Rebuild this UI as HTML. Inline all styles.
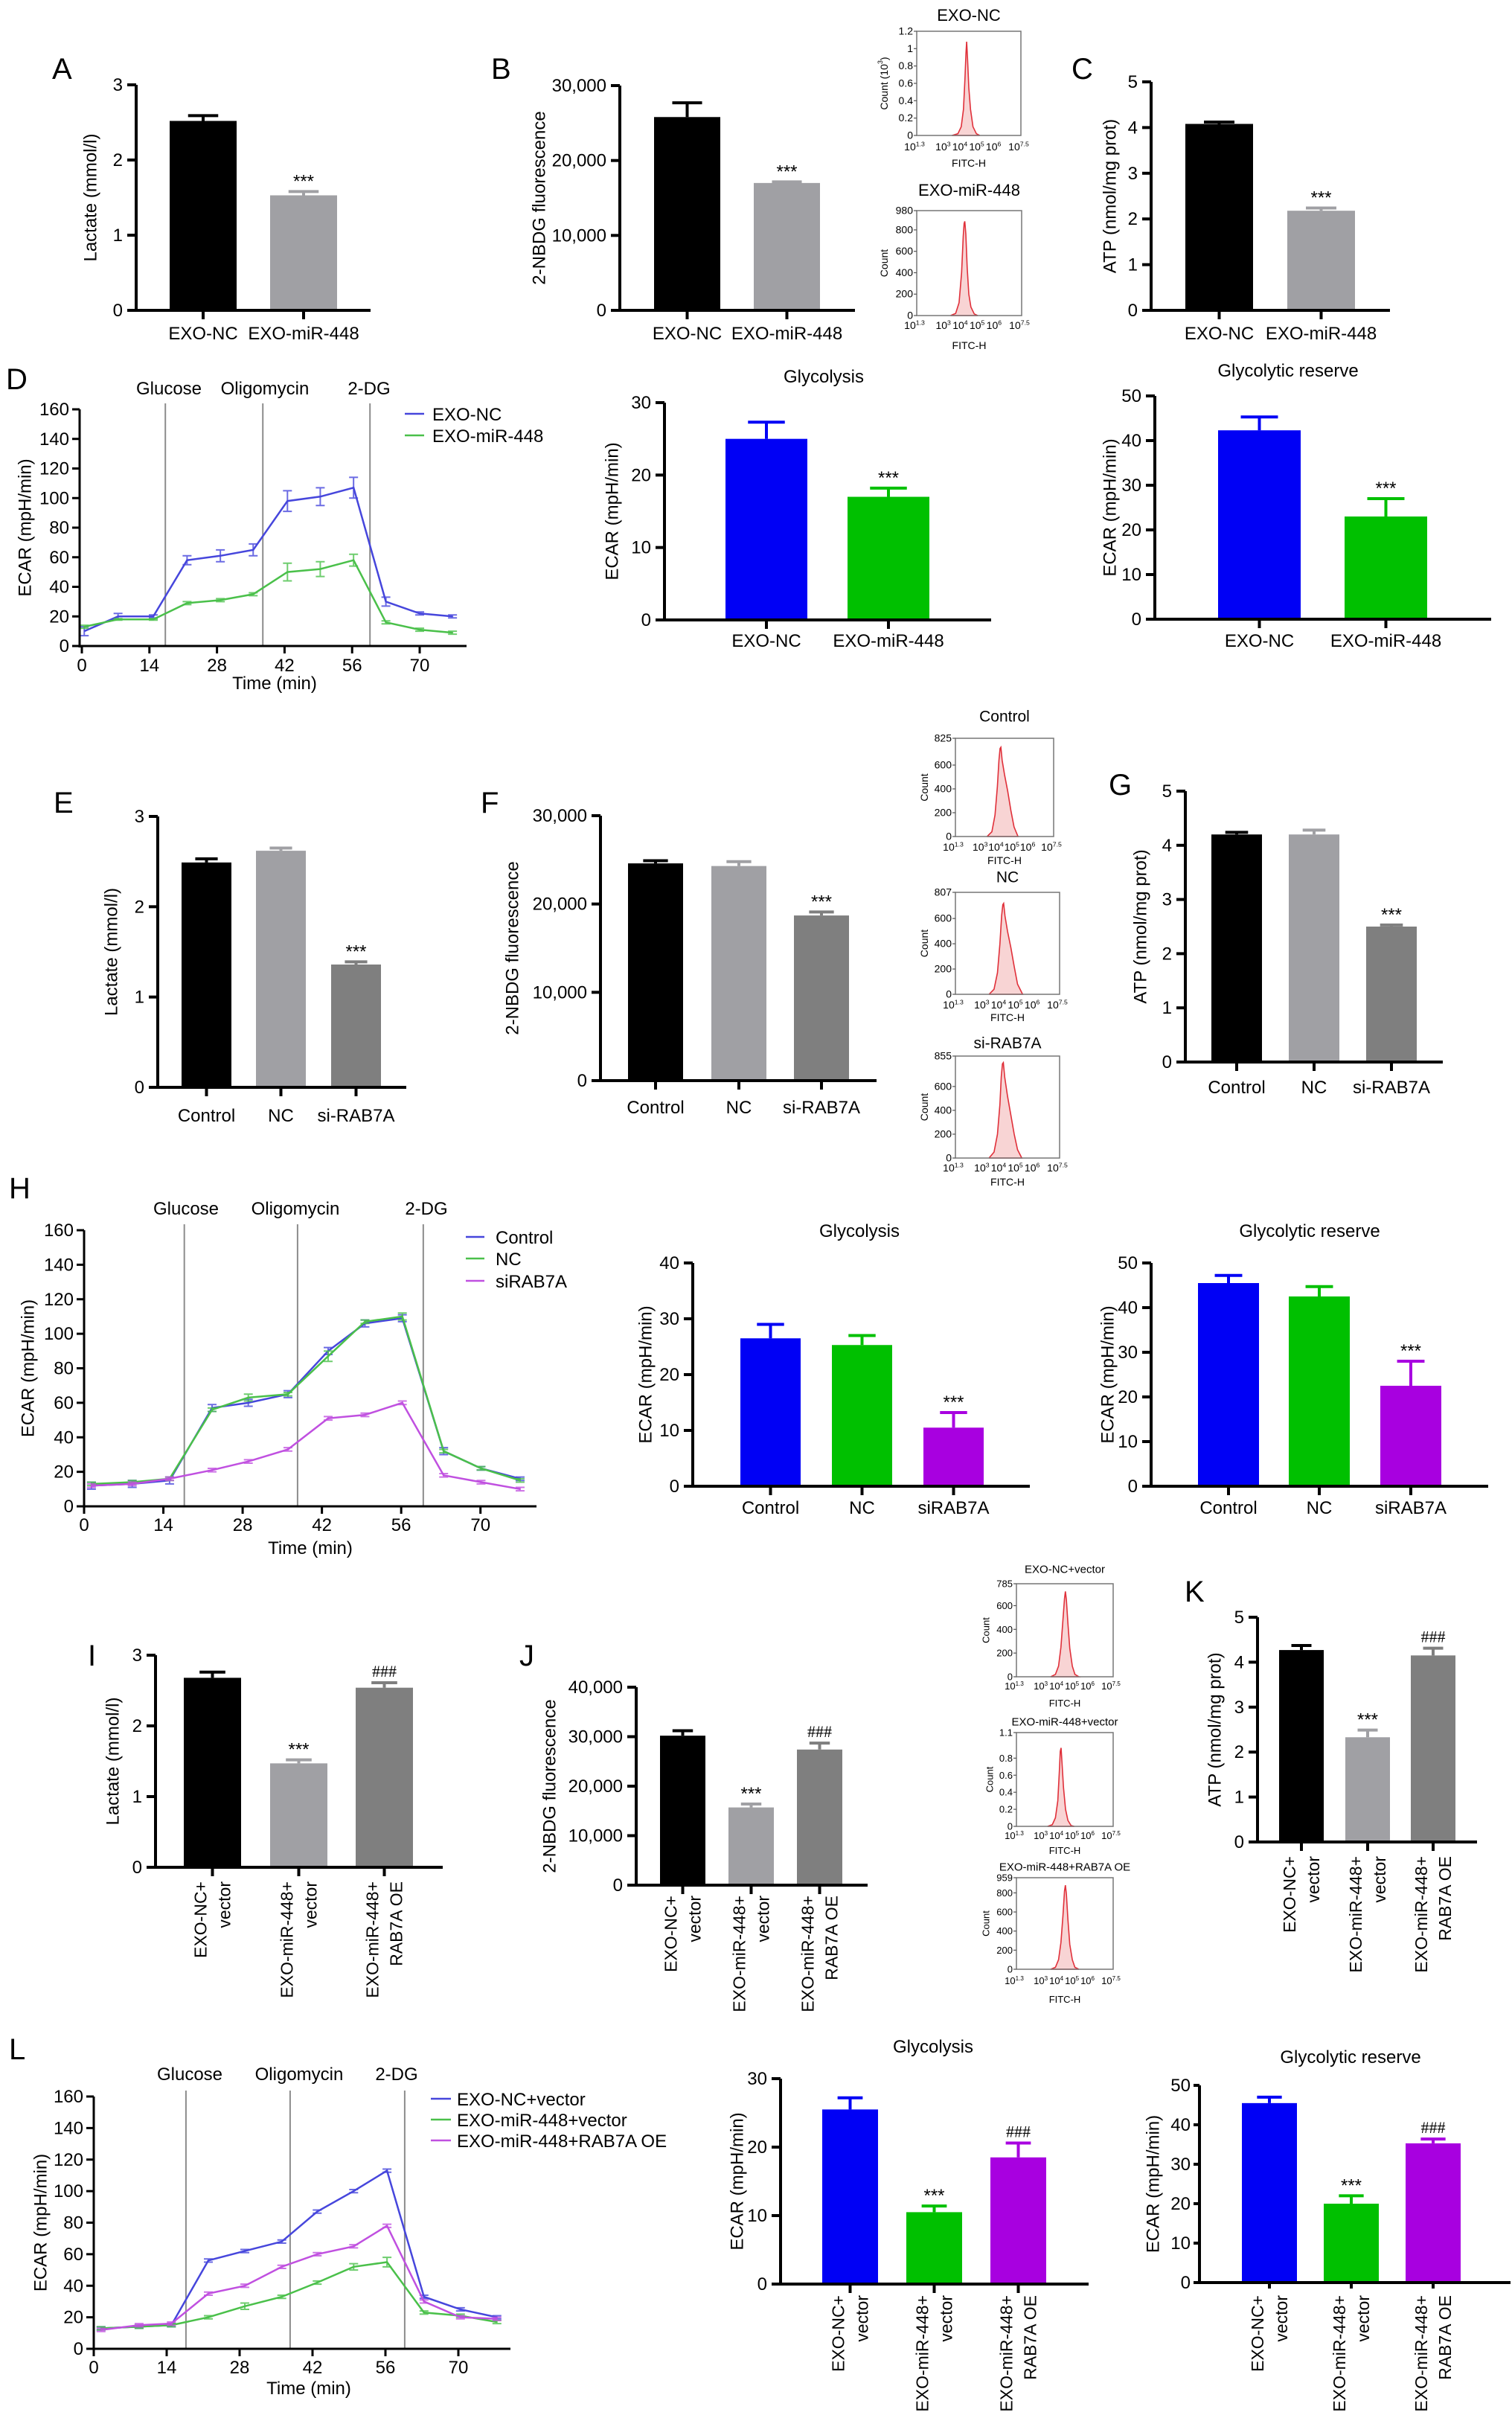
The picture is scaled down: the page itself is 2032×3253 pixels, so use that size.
<!DOCTYPE html>
<html><head><meta charset="utf-8"><title>Glycolysis figure</title>
<style>
html,body{margin:0;padding:0;background:#fff;}
svg{display:block;font-family:"Liberation Sans",Arial,sans-serif;}
</style></head>
<body>
<svg id="fig" width="2032" height="3253" viewBox="0 0 2032 3253" xmlns="http://www.w3.org/2000/svg"></svg>
<script>
// ---------- DATA ----------
const A_cats=[["EXO-NC"],["EXO-miR-448"]];
const A_vals=[2.52,1.53];
const A_err=[0.07,0.05];
const A_marks=["","***"];
const A_ticks=[0,1,2,3];

const B_cats=[["EXO-NC"],["EXO-miR-448"]];
const B_vals=[25800,17000];
const B_err=[1900,150];
const B_marks=["","***"];
const B_ticks=[0,10000,20000,30000];

const C_cats=[["EXO-NC"],["EXO-miR-448"]];
const C_vals=[4.08,2.18];
const C_err=[0.04,0.06];
const C_marks=["","***"];
const C_ticks=[0,1,2,3,4,5];

const D_times=[0.5,7.5,14.8,21.8,28.7,35.5,42.6,49.4,56.3,63,70,76.8];
const D_blue=[10,20,20,58,61,65,98,101,107,30,22,20];
const D_blueErr=[3,2,1,3,4,4,7,6,7,3,1,1];
const D_green=[13,18,18,29,31,35,50,52,58,16,11,9];
const D_greenErr=[1,0.5,0.5,1,1,1,6,5,4,1,1,1];
const D_inj=[17.3,37.5,59.7];
const D_injNames=["Glucose","Oligomycin","2-DG"];
const D_names=["EXO-NC","EXO-miR-448"];
const ECAR_yticks=[0,20,40,60,80,100,120,140,160];
const ECAR_xticks=[0,14,28,42,56,70];

const DG_cats=[["EXO-NC"],["EXO-miR-448"]];
const DG_vals=[25,17];
const DG_err=[2.3,1.2];
const DG_marks=["","***"];
const DG_ticks=[0,10,20,30];

const DR_cats=[["EXO-NC"],["EXO-miR-448"]];
const DR_vals=[42.3,23];
const DR_err=[3,4];
const DR_marks=["","***"];
const DR_ticks=[0,10,20,30,40,50];

const E_cats=[["Control"],["NC"],["si-RAB7A"]];
const E_vals=[2.49,2.62,1.36];
const E_err=[0.04,0.03,0.03];
const E_marks=["","","***"];
const E_ticks=[0,1,2,3];

const F_cats=[["Control"],["NC"],["si-RAB7A"]];
const F_vals=[24600,24300,18700];
const F_err=[300,500,400];
const F_marks=["","","***"];
const F_ticks=[0,10000,20000,30000];

const G_cats=[["Control"],["NC"],["si-RAB7A"]];
const G_vals=[4.2,4.2,2.5];
const G_err=[0.04,0.08,0.03];
const G_marks=["","","***"];
const G_ticks=[0,1,2,3,4,5];

const H_times=[1.3,8.5,15.1,22.6,29,36,43.1,49.6,56.2,63.5,70.1,77];
const H_ctrl=[12,13,15,57,60,65,90,106,109,32,22,16];
const H_ctrlErr=[2,2,2,2,2,2,2,2,2,2,1,1];
const H_nc=[13,14,16,56,63,65,87,107,110,32,22,15];
const H_ncErr=[1,1,1,1,2,1,3,1,2,1,1,1];
const H_si=[12,13,16,21,26,33,51,53,60,18,14,10];
const H_siErr=[1,1,1,1,1,1,1,1,1,1,1,1];
const H_inj=[17.7,37.7,59.9];
const H_names=["Control","NC","siRAB7A"];

const HG_cats=[["Control"],["NC"],["siRAB7A"]];
const HG_vals=[26.5,25.3,10.5];
const HG_err=[2.5,1.7,2.7];
const HG_marks=["","","***"];
const HG_ticks=[0,10,20,30,40];

const HR_cats=[["Control"],["NC"],["siRAB7A"]];
const HR_vals=[45.5,42.5,22.5];
const HR_err=[1.7,2.2,5.5];
const HR_marks=["","","***"];
const HR_ticks=[0,10,20,30,40,50];

const OE_cats=[["EXO-NC+","vector"],["EXO-miR-448+","vector"],["EXO-miR-448+","RAB7A OE"]];
const I_vals=[2.68,1.47,2.54];
const I_err=[0.08,0.05,0.07];
const I_marks=["","***","###"];
const I_ticks=[0,1,2,3];

const J_vals=[30200,15700,27400];
const J_err=[1000,700,1300];
const J_marks=["","***","###"];
const J_ticks=[0,10000,20000,30000,40000];

const K_vals=[4.27,2.33,4.15];
const K_err=[0.1,0.16,0.16];
const K_marks=["","***","###"];
const K_ticks=[0,1,2,3,4,5];

const L_times=[1.4,8.7,14.9,22,29,36.1,42.9,49.9,56.3,63.4,70.4,77.4];
const L_blue=[13,14,15,56,62,68,87,100,113,33,25,20];
const L_blueErr=[1,1,1,1,1,1,1,1,1,1,1,1];
const L_green=[13,14,15,20,27,33,42,52,55,23,21,17];
const L_greenErr=[1,1,1,1,2,1,1,2,3,1,1,1];
const L_purple=[12,15,16,35,40,52,60,65,78,30,20,19];
const L_purpleErr=[1,1,1,1,1,1,1,1,1,1,1,1];
const L_inj=[17.7,37.7,59.7];
const L_names=["EXO-NC+vector","EXO-miR-448+vector","EXO-miR-448+RAB7A OE"];

const LG_vals=[25.5,10.5,18.5];
const LG_err=[1.7,0.9,2.1];
const LG_marks=["","***","###"];
const LG_ticks=[0,10,20,30];

const LR_vals=[45.5,20,35.3];
const LR_err=[1.5,2,1.1];
const LR_marks=["","***","###"];
const LR_ticks=[0,10,20,30,40,50];

// histogram shapes (log10 FITC, count)
const HB1_x=[3.4,3.75,3.95,4.08,4.17,4.23,4.27,4.32,4.4,4.5,4.65,4.85,5.05];
const HB1_y=[0,0.02,0.1,0.3,0.65,0.95,1.08,0.9,0.55,0.3,0.1,0.02,0];
const HB2_x=[3.3,3.6,3.8,3.95,4.05,4.1,4.14,4.2,4.28,4.38,4.5,4.7,4.9];
const HB2_y=[0,20,120,400,740,860,880,760,450,200,80,15,0];
const HF1_x=[3.3,3.6,3.8,3.95,4.05,4.12,4.17,4.25,4.4,4.6,4.8,5.0,5.25];
const HF1_y=[0,40,180,420,640,740,750,640,520,380,220,80,0];
const HF2_x=[3.3,3.6,3.8,3.95,4.05,4.12,4.17,4.25,4.4,4.6,4.8,5.0,5.3];
const HF2_y=[0,40,170,400,620,710,720,620,500,370,220,80,0];
const HF3_x=[3.3,3.6,3.8,3.95,4.03,4.1,4.15,4.23,4.4,4.6,4.8,5.0,5.25];
const HF3_y=[0,50,200,450,680,790,800,680,520,360,200,70,0];
const HJ1_x=[3.5,3.8,4.0,4.15,4.28,4.38,4.44,4.5,4.6,4.72,4.88,5.05,5.3];
const HJ1_y=[0,20,90,250,480,660,720,650,450,240,90,20,0];
const HJ2_x=[3.3,3.6,3.8,3.95,4.05,4.11,4.16,4.22,4.32,4.45,4.6,4.8,5.0];
const HJ2_y=[0,0.02,0.1,0.3,0.65,0.88,0.92,0.75,0.45,0.2,0.07,0.01,0];
const HJ3_x=[3.5,3.8,4.0,4.15,4.28,4.38,4.44,4.5,4.6,4.72,4.88,5.05,5.3];
const HJ3_y=[0,20,100,280,560,820,880,790,520,260,100,20,0];
const HIST_xticks=[1.3,3,4,5,6,7.5];

// ---------- DRAW ----------
const NS='http://www.w3.org/2000/svg';
const svg=document.getElementById('fig');
function mk(tag,attrs,parent){const e=document.createElementNS(NS,tag);for(const k in attrs)e.setAttribute(k,attrs[k]);(parent||svg).appendChild(e);return e;}
function txt(parent,s,attrs){const t=mk('text',attrs,parent);t.textContent=s;return t;}
function fmt(v){return v>=1000?v.toLocaleString('en-US'):String(v);}

function letter(s,x,y){
  const t=txt(svg,s,{x:x,y:y,'font-size':40,fill:'#000'});
  
  
}

function barChart(name,L,cats,vals,errs,marks,ticks,colors){
  const g=mk('g',{});
  
  
  const max=ticks[ticks.length-1];
  const y=v=>L.y0-v/max*(L.y0-L.yTop);
  const fs=L.fs||24;
  const tl=L.tickLen||12, tg=L.tickGap||18;
  if(L.title){
    const t=txt(g,L.title,{x:L.titleX,y:L.titleY+8,'font-size':fs,'text-anchor':'middle'});
    
    
  }
  vals.forEach((v,i)=>{
    const x=L.barL[i],w=L.barW,c=colors[i];
    const r=mk('rect',{x:x,y:y(v),width:w,height:L.y0-y(v),fill:c},g);
    
    
    const top=y(v+errs[i]);
    const cx=x+w/2,cw=w*0.45;
    const eb=mk('path',{d:`M${cx},${y(v)}V${top}M${cx-cw/2},${top}H${cx+cw/2}`,stroke:c,'stroke-width':4,fill:'none'},g);
    
    
    if(marks[i]){
      const m=txt(g,marks[i],{x:cx,y:top-(marks[i][0]=='*'?6:8),'font-size':marks[i][0]=='*'?24:22,'text-anchor':'middle','font-family':marks[i][0]=='#'?'"Liberation Serif",serif':'inherit'});
      
      
    }
    mk('line',{x1:cx,y1:L.y0,x2:cx,y2:L.y0+tl,stroke:'#000','stroke-width':4},g);
    const lines=cats[i];
    if(L.rot){
      lines.forEach((s,j)=>{
        const lx=cx+(j-(lines.length-1)/2)*32, ly=L.labTop;
        const t=txt(g,s,{x:lx,y:ly,'font-size':fs-1,'text-anchor':'end','dominant-baseline':'central',transform:`rotate(-90 ${lx} ${ly})`});
        
        
      });
    } else {
      const t=txt(g,lines[0],{x:cx,y:L.labY+8,'font-size':fs,'text-anchor':'middle'});
      
      
    }
  });
  const ax=mk('path',{d:`M${L.ax},${L.yTop}V${L.y0+2}M${L.ax-tl},${L.y0}H${L.axEnd}`,stroke:'#000','stroke-width':4,fill:'none'},g);
  
  
  ticks.forEach(v=>{
    mk('line',{x1:L.ax-tl,y1:y(v),x2:L.ax,y2:y(v),stroke:'#000','stroke-width':4},g);
    const t=txt(g,fmt(v),{x:L.ax-tg,y:y(v)+8,'font-size':fs,'text-anchor':'end'});
    
    
  });
  const cy=(L.y0+L.yTop)/2;
  const yl=txt(g,L.ylabel,{x:L.ylx,y:cy,'font-size':fs,'text-anchor':'middle','dominant-baseline':'central',transform:`rotate(-90 ${L.ylx} ${cy})`});
  
  
}

function lineChart(name,L,times,series,errs,names,colors,inj){
  const g=mk('g',{});
  
  
  const x=t=>L.x0+t*L.ppm;
  const y=v=>L.y0-v/160*(L.y0-L.yTop);
  const fs=24;
  inj.forEach((t,i)=>{
    const l=mk('line',{x1:x(t),y1:L.yTop-8,x2:x(t),y2:L.y0,stroke:'#8c8c8c','stroke-width':2},g);
    
    
    const lb=txt(g,D_injNames[i],{x:L.injLabX[i],y:L.injY+8,'font-size':fs,'text-anchor':'middle'});
    
    
  });
  series.forEach((s,k)=>{
    const d=s.map((v,i)=>(i?'L':'M')+x(times[i]).toFixed(1)+','+y(v).toFixed(1)).join('');
    const p=mk('path',{d:d,stroke:colors[k],'stroke-width':2.5,fill:'none'},g);
    
    
    s.forEach((v,i)=>{
      const cx=x(times[i]),e=errs[k][i];
      const eb=mk('path',{d:`M${cx},${y(v-e)}V${y(v+e)}M${cx-6},${y(v-e)}H${cx+6}M${cx-6},${y(v+e)}H${cx+6}`,stroke:colors[k],'stroke-width':2,fill:'none',opacity:0.8},g);
      
      
    });
    const ly=L.legY[k];
    const lm=mk('line',{x1:L.legX1,y1:ly,x2:L.legX2,y2:ly,stroke:colors[k],'stroke-width':2.5},g);
    
    
    const lt=txt(g,names[k],{x:L.legTx,y:ly+9,'font-size':fs});
    
    
  });
  const ax=mk('path',{d:`M${L.ax},${L.yTop}V${L.y0+2}M${L.ax-10},${L.y0}H${L.xEnd}`,stroke:'#000','stroke-width':3,fill:'none'},g);
  
  
  ECAR_yticks.forEach(v=>{
    mk('line',{x1:L.ax-10,y1:y(v),x2:L.ax,y2:y(v),stroke:'#000','stroke-width':3},g);
    const t=txt(g,String(v),{x:L.ax-14,y:y(v)+8,'font-size':fs,'text-anchor':'end'});
    
    
  });
  ECAR_xticks.forEach(v=>{
    mk('line',{x1:x(v),y1:L.y0,x2:x(v),y2:L.y0+10,stroke:'#000','stroke-width':3},g);
    const t=txt(g,String(v),{x:x(v),y:L.xlabY+8,'font-size':fs,'text-anchor':'middle'});
    
    
  });
  const xt=txt(g,'Time (min)',{x:L.timeX,y:L.timeY+8,'font-size':fs,'text-anchor':'middle'});
  
  
  const cy=(L.y0+L.yTop)/2;
  const yl=txt(g,'ECAR (mpH/min)',{x:L.ylx,y:cy,'font-size':fs,'text-anchor':'middle','dominant-baseline':'central',transform:`rotate(-90 ${L.ylx} ${cy})`});
  
  
}

function hist(name,L,xs,ys,yticks){
  const g=mk('g',{});
  
  
  const ymax=yticks[yticks.length-1];
  const X=v=>L.x1+(v-1.3)/6.2*(L.x2-L.x1);
  const Y=c=>L.y2-c/ymax*(L.y2-L.y1);
  const tt=txt(g,L.title,{x:(L.x1+L.x2)/2,y:L.titleY+L.tfs*0.36,'font-size':L.tfs,'text-anchor':'middle'});
  
  
  const d='M'+X(xs[0])+','+L.y2+xs.map((v,i)=>'L'+X(v).toFixed(1)+','+Y(ys[i]).toFixed(1)).join('')+'Z';
  const p=mk('path',{d:d,fill:'#f8d4d4',stroke:'#e0303a','stroke-width':1.6},g);
  
  
  const b=mk('rect',{x:L.x1,y:L.y1,width:L.x2-L.x1,height:L.y2-L.y1,fill:'none',stroke:'#777','stroke-width':1.5},g);
  
  
  yticks.forEach(v=>{
    mk('line',{x1:L.x1-4,y1:Y(v),x2:L.x1,y2:Y(v),stroke:'#555','stroke-width':1.2},g);
    const t=txt(g,String(v),{x:L.x1-5,y:Y(v)+4.5,'font-size':L.fs,'text-anchor':'end'});
    
    
  });
  HIST_xticks.forEach(v=>{
    const t=txt(g,'',{x:X(v)-3,y:L.labY+5,'font-size':L.fs,'text-anchor':'middle'});
    
    
    const a=mk('tspan',{},t);a.textContent='10';
    const s=mk('tspan',{'font-size':L.fs*0.62,dy:-L.fs*0.4},t);s.textContent=String(v);
  });
  const ft=txt(g,'FITC-H',{x:(L.x1+L.x2)/2,y:L.fitY+5,'font-size':L.fs,'text-anchor':'middle'});
  
  
  const cy=(L.y1+L.y2)/2;
  const yl=txt(g,'',{x:L.ylx,y:cy,'font-size':L.fs,'text-anchor':'middle','dominant-baseline':'central',transform:`rotate(-90 ${L.ylx} ${cy})`});
  
  
  if(L.sci){const a=mk('tspan',{},yl);a.textContent='Count (10';const s=mk('tspan',{'font-size':L.fs*0.65,dy:-5},yl);s.textContent='3';const c=mk('tspan',{dy:5},yl);c.textContent=')';}
  else yl.textContent='Count';
}

const K='#000',GR='#a0a0a4',DG='#7f7f7f',BL='#0000f5',GN='#00c000',PU='#a800e0';
const LB='#4646dc',LGc='#4ac04a',LP='#c050e0';

letter('A',70,106);letter('B',660,106);letter('C',1440,106);letter('D',8,523);
letter('E',72,1092);letter('F',646,1092);letter('G',1490,1068);letter('H',12,1610);
letter('I',118,2238);letter('J',698,2238);letter('K',1592,2152);letter('L',12,2767);

barChart('chart-a-lactate',{ax:183,axEnd:498,y0:417,yTop:114,barL:[228,363],barW:90,labY:448,ylabel:'Lactate (mmol/l)',ylx:122},A_cats,A_vals,A_err,A_marks,A_ticks,[K,GR]);
barChart('chart-b-2nbdg',{ax:833,axEnd:1149,y0:417,yTop:115,barL:[879,1013],barW:89,labY:448,ylabel:'2-NBDG fluorescence',ylx:725},B_cats,B_vals,B_err,B_marks,B_ticks,[K,GR]);
barChart('chart-c-atp',{ax:1547,axEnd:1868,y0:417,yTop:110,barL:[1593,1730],barW:91,labY:448,ylabel:'ATP (nmol/mg prot)',ylx:1492},C_cats,C_vals,C_err,C_marks,C_ticks,[K,GR]);
hist('hist-b-exo-nc',{x1:1232,x2:1372,y1:42,y2:182,title:'EXO-NC',titleY:20,tfs:22,fs:14,labY:197,fitY:219,ylx:1188,sci:true},HB1_x,HB1_y,[0,0.2,0.4,0.6,0.8,1,1.2]);
hist('hist-b-exo-mir448',{x1:1232,x2:1373,y1:283,y2:424,title:'EXO-miR-448',titleY:255,tfs:22,fs:14,labY:437,fitY:464,ylx:1188},HB2_x,HB2_y,[0,200,400,600,800,980]);

lineChart('chart-d-ecar',{ax:107,x0:110,ppm:6.486,y0:868,yTop:550,xEnd:627,injLabX:[227,356,496],injY:522,legX1:544,legX2:570,legTx:581,legY:[556,585],xlabY:894,timeX:369,timeY:918,ylx:34},D_times,[D_blue,D_green],[D_blueErr,D_greenErr],D_names,[LB,LGc],D_inj);
barChart('chart-d-glycolysis',{ax:893,axEnd:1332,y0:833,yTop:541,barL:[975,1139],barW:110,labY:861,ylabel:'ECAR (mpH/min)',ylx:823,title:'Glycolysis',titleX:1107,titleY:506},DG_cats,DG_vals,DG_err,DG_marks,DG_ticks,[BL,GN]);
barChart('chart-d-glycolytic-reserve',{ax:1552,axEnd:2004,y0:832,yTop:532,barL:[1637,1807],barW:111,labY:861,ylabel:'ECAR (mpH/min)',ylx:1492,title:'Glycolytic reserve',titleX:1731,titleY:498},DR_cats,DR_vals,DR_err,DR_marks,DR_ticks,[BL,GN]);

barChart('chart-e-lactate',{ax:212,axEnd:546,y0:1461,yTop:1097,barL:[244,344,445],barW:67,labY:1499,ylabel:'Lactate (mmol/l)',ylx:150},E_cats,E_vals,E_err,E_marks,E_ticks,[K,GR,DG]);
barChart('chart-f-2nbdg',{ax:807,axEnd:1178,y0:1452,yTop:1096,barL:[844,956,1067],barW:74,labY:1488,ylabel:'2-NBDG fluorescence',ylx:689},F_cats,F_vals,F_err,F_marks,F_ticks,[K,GR,DG]);
barChart('chart-g-atp',{ax:1593,axEnd:1939,y0:1427,yTop:1063,barL:[1628,1732,1836],barW:68,labY:1461,ylabel:'ATP (nmol/mg prot)',ylx:1533},G_cats,G_vals,G_err,G_marks,G_ticks,[K,GR,DG]);
hist('hist-f-control',{x1:1284,x2:1416,y1:992,y2:1124,title:'Control',titleY:962,tfs:21,fs:14,labY:1138,fitY:1156,ylx:1242},HF1_x,HF1_y,[0,200,400,600,825]);
hist('hist-f-nc',{x1:1284,x2:1424,y1:1199,y2:1336,title:'NC',titleY:1178,tfs:21,fs:14,labY:1350,fitY:1367,ylx:1242},HF2_x,HF2_y,[0,200,400,600,807]);
hist('hist-f-si-rab7a',{x1:1284,x2:1424,y1:1419,y2:1556,title:'si-RAB7A',titleY:1401,tfs:21,fs:14,labY:1569,fitY:1588,ylx:1242},HF3_x,HF3_y,[0,200,400,600,855]);

lineChart('chart-h-ecar',{ax:113,x0:113,ppm:7.61,y0:2024,yTop:1653,xEnd:721,injLabX:[250,397,573],injY:1624,legX1:626,legX2:651,legTx:666,legY:[1662,1691,1721],xlabY:2049,timeX:417,timeY:2080,ylx:38},H_times,[H_ctrl,H_nc,H_si],[H_ctrlErr,H_ncErr,H_siErr],H_names,[LB,LGc,LP],H_inj);
barChart('chart-h-glycolysis',{ax:931,axEnd:1384,y0:1997,yTop:1697,barL:[995,1118,1241],barW:81,labY:2026,ylabel:'ECAR (mpH/min)',ylx:868,title:'Glycolysis',titleX:1155,titleY:1654},HG_cats,HG_vals,HG_err,HG_marks,HG_ticks,[BL,GN,PU]);
barChart('chart-h-glycolytic-reserve',{ax:1547,axEnd:2000,y0:1997,yTop:1697,barL:[1610,1732,1855],barW:82,labY:2026,ylabel:'ECAR (mpH/min)',ylx:1489,title:'Glycolytic reserve',titleX:1760,titleY:1654},HR_cats,HR_vals,HR_err,HR_marks,HR_ticks,[BL,GN,PU]);

barChart('chart-i-lactate',{ax:209,axEnd:595,y0:2509,yTop:2224,barL:[247,363,478],barW:77,rot:true,labTop:2528,ylabel:'Lactate (mmol/l)',ylx:152},OE_cats,I_vals,I_err,I_marks,I_ticks,[K,GR,DG]);
barChart('chart-j-2nbdg',{ax:855,axEnd:1166,y0:2533,yTop:2267,barL:[887,979,1071],barW:61,rot:true,labTop:2547,ylabel:'2-NBDG fluorescence',ylx:739},OE_cats,J_vals,J_err,J_marks,J_ticks,[K,GR,DG]);
barChart('chart-k-atp',{ax:1690,axEnd:1985,y0:2475,yTop:2173,barL:[1719,1808,1896],barW:60,rot:true,labTop:2494,ylabel:'ATP (nmol/mg prot)',ylx:1633},OE_cats,K_vals,K_err,K_marks,K_ticks,[K,GR,DG]);
hist('hist-j-exo-nc-vector',{x1:1366,x2:1496,y1:2128,y2:2253,title:'EXO-NC+vector',titleY:2108,tfs:15,fs:13,labY:2265,fitY:2288,ylx:1325},HJ1_x,HJ1_y,[0,200,400,600,785]);
hist('hist-j-exo-mir448-vector',{x1:1366,x2:1496,y1:2328,y2:2454,title:'EXO-miR-448+vector',titleY:2313,tfs:15,fs:13,labY:2466,fitY:2486,ylx:1330},HJ2_x,HJ2_y,[0,0.2,0.4,0.6,0.8,1.1]);
hist('hist-j-exo-mir448-rab7a-oe',{x1:1366,x2:1496,y1:2523,y2:2646,title:'EXO-miR-448+RAB7A OE',titleY:2508,tfs:15,fs:13,labY:2661,fitY:2686,ylx:1325},HJ3_x,HJ3_y,[0,200,400,600,800,959]);

lineChart('chart-l-ecar',{ax:126,x0:126,ppm:7.0,y0:3156,yTop:2817,xEnd:686,injLabX:[255,402,533],injY:2787,legX1:579,legX2:606,legTx:614,legY:[2820,2848,2876],xlabY:3181,timeX:415,timeY:3209,ylx:55},L_times,[L_blue,L_green,L_purple],[L_blueErr,L_greenErr,L_purpleErr],L_names,[LB,LGc,LP],L_inj);
barChart('chart-l-glycolysis',{ax:1049,axEnd:1463,y0:3069,yTop:2793,barL:[1105,1218,1331],barW:75,rot:true,labTop:3084,ylabel:'ECAR (mpH/min)',ylx:991,title:'Glycolysis',titleX:1254,titleY:2750},OE_cats,LG_vals,LG_err,LG_marks,LG_ticks,[BL,GN,PU]);
barChart('chart-l-glycolytic-reserve',{ax:1612,axEnd:2030,y0:3067,yTop:2802,barL:[1669,1779,1889],barW:74,rot:true,labTop:3084,tickLen:8,tickGap:12,ylabel:'ECAR (mpH/min)',ylx:1550,title:'Glycolytic reserve',titleX:1815,titleY:2764},OE_cats,LR_vals,LR_err,LR_marks,LR_ticks,[BL,GN,PU]);
</script>
</body></html>
